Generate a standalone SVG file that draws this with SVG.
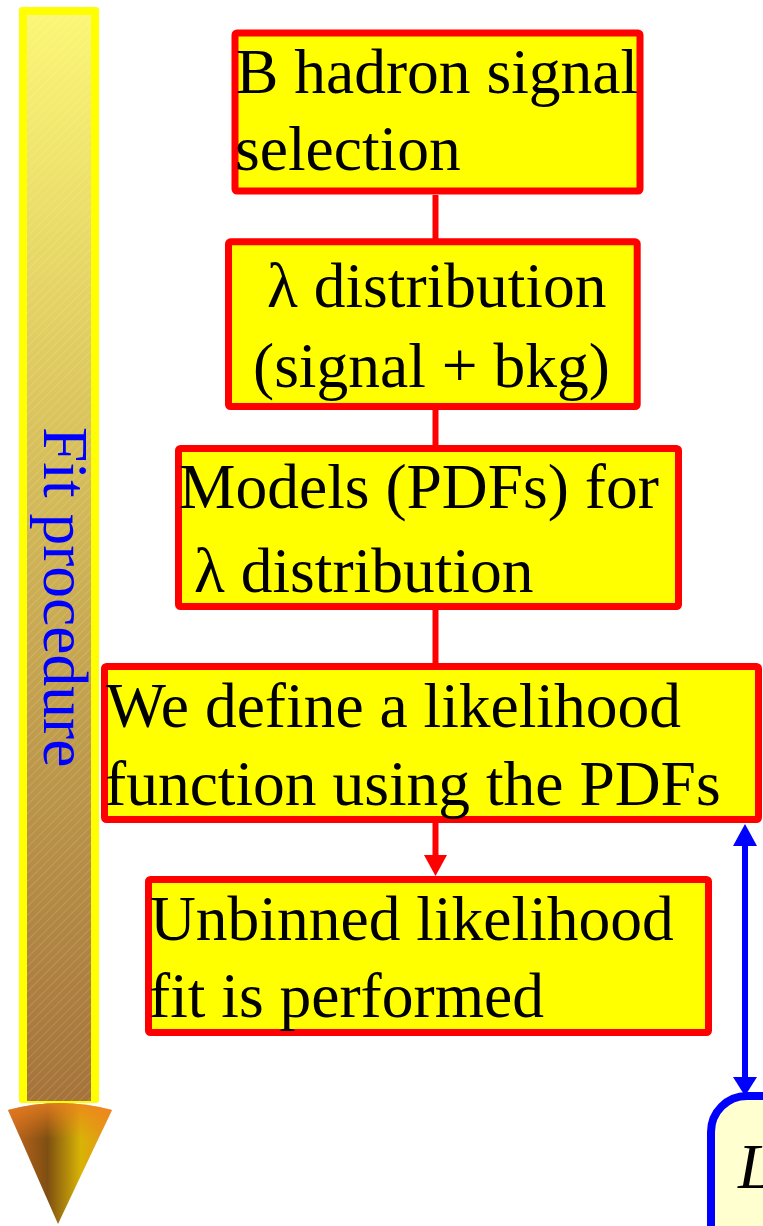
<svg xmlns="http://www.w3.org/2000/svg" width="763" height="1226" viewBox="0 0 763 1226">
<style>
.box{fill:#FFFF00;stroke:#FF0000;stroke-width:7}
.t{font-family:"Liberation Serif","Times New Roman",serif;font-size:63.5px;fill:#000}
.red{stroke:#FF0000;stroke-width:6;fill:none}
.blue{stroke:#0000FF;stroke-width:6;fill:none}
</style>
<defs>
<linearGradient id="shaft" x1="0" y1="0" x2="0" y2="1">
<stop offset="0" stop-color="#FBF675"/>
<stop offset="0.35" stop-color="#DCC75E"/>
<stop offset="0.7" stop-color="#BC974A"/>
<stop offset="1" stop-color="#A5733A"/>
</linearGradient>
<linearGradient id="cone" x1="0" y1="0" x2="1" y2="0">
<stop offset="0" stop-color="#C8681E"/>
<stop offset="0.38" stop-color="#7E4F12"/>
<stop offset="0.7" stop-color="#D8B406"/>
<stop offset="1" stop-color="#E8901A"/>
</linearGradient>
<linearGradient id="conetop" x1="0" y1="0" x2="0" y2="1">
<stop offset="0" stop-color="#F08020" stop-opacity="0.8"/>
<stop offset="0.3" stop-color="#F08020" stop-opacity="0"/>
</linearGradient>
<pattern id="hatch" width="6" height="6" patternUnits="userSpaceOnUse" patternTransform="rotate(45)">
<line x1="0" y1="0" x2="0" y2="6" stroke="#FFFFFF" stroke-opacity="0.35" stroke-width="0.8"/>
</pattern>
</defs>

<g id="fit-arrow">
<rect x="19" y="7" width="80" height="1096" rx="3" fill="#FFFF00"/>
<rect x="27" y="15" width="64" height="1086" fill="url(#shaft)"/>
<rect x="27" y="15" width="64" height="1086" fill="url(#hatch)"/>
<path d="M8,1110 Q60,1096 112,1110 L58,1224 Z" fill="url(#cone)"/>
<path d="M8,1110 Q60,1096 112,1110 L58,1224 Z" fill="url(#conetop)"/>
<text class="t" transform="translate(44,427) rotate(90)" style="fill:#0000FF">Fit procedure</text>
</g>

<g id="connectors">
<line class="red" x1="435.5" y1="195" x2="435.5" y2="239"/>
<line class="red" x1="435.5" y1="409" x2="435.5" y2="446"/>
<line class="red" x1="435.5" y1="609" x2="435.5" y2="664"/>
<line class="red" x1="435.5" y1="822" x2="435.5" y2="857"/>
<polygon points="435.5,876 424,855 447,855" fill="#FF0000"/>
<line class="blue" x1="745" y1="844" x2="745" y2="1079"/>
<polygon points="745,824 733,846 757,846" fill="#0000FF"/>
<polygon points="745,1096 733,1077 757,1077" fill="#0000FF"/>
</g>

<g id="n1">
<rect class="box" x="235" y="33" width="405" height="158" rx="2"/>
<text class="t" x="236" y="93">B hadron signal</text>
<text class="t" x="235" y="170">selection</text>
</g>

<g id="n2">
<rect class="box" x="228.5" y="241.8" width="408.7" height="164.7" rx="2"/>
<text class="t" x="267" y="307">λ distribution</text>
<text class="t" x="253" y="387">(signal + bkg)</text>
</g>

<g id="n3">
<rect class="box" x="178.5" y="448.5" width="500" height="158" rx="2"/>
<text class="t" x="179" y="508">Models (PDFs) for</text>
<text class="t" x="194" y="592">λ distribution</text>
</g>

<g id="n4">
<rect class="box" x="104.5" y="666.5" width="654" height="153" rx="2"/>
<text class="t" x="106" y="727">We define a likelihood</text>
<text class="t" x="105" y="805">function using the PDFs</text>
</g>

<g id="n5">
<rect class="box" x="148.5" y="879.5" width="560" height="153" rx="2"/>
<text class="t" x="150" y="940">Unbinned likelihood</text>
<text class="t" x="149" y="1017">fit is performed</text>
</g>

<g id="n6">
<rect x="711" y="1096" width="120" height="200" rx="36" fill="#FFFFD0" stroke="#0000FF" stroke-width="8"/>
<text class="t" x="738" y="1188" style="font-style:italic">L</text>
</g>
</svg>
